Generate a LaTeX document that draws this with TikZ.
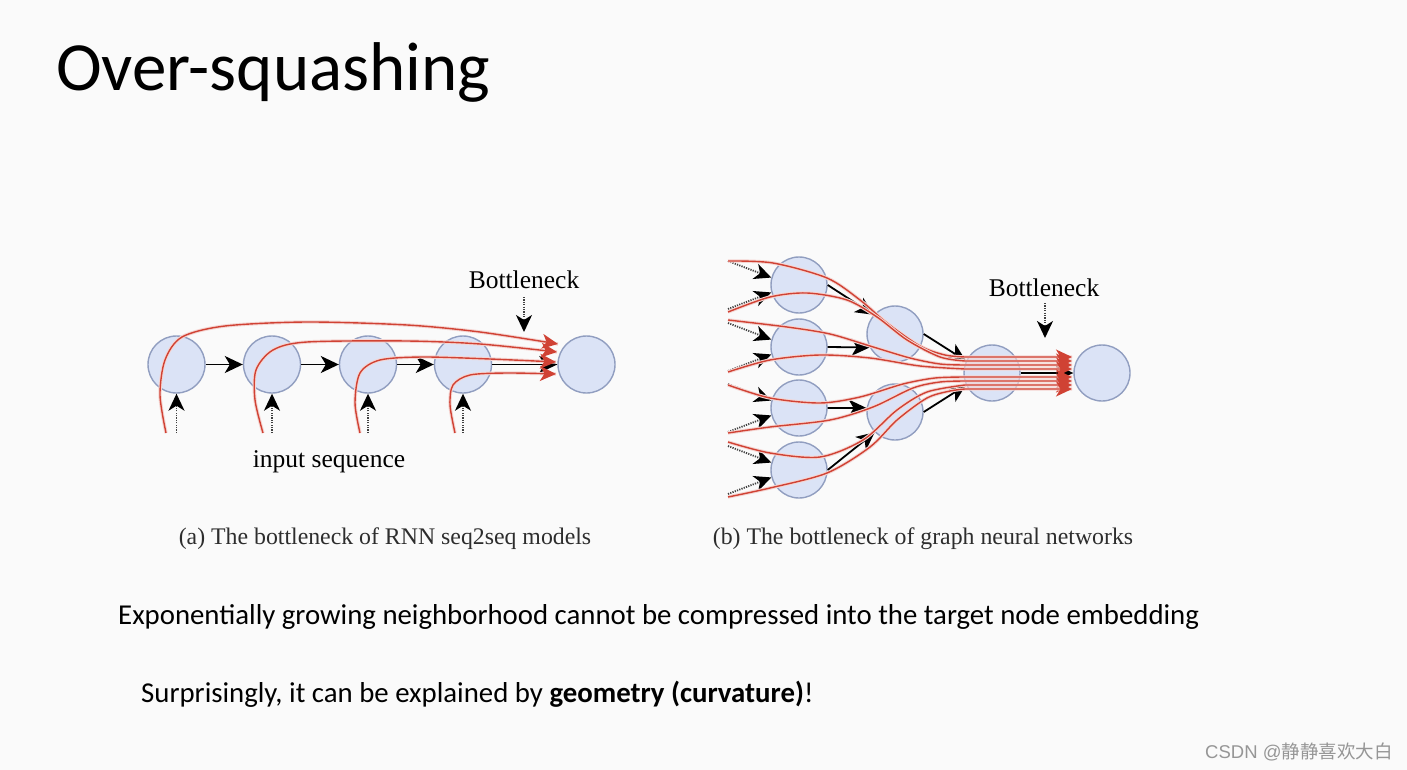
\documentclass[tikz,border=0pt]{standalone}
\usepackage{fontspec}
\setmainfont{Carlito}
\newfontfamily\serifrm{Liberation Serif}
\newfontfamily\wmsans{Liberation Sans}
\newfontfamily\cjk{Noto Sans CJK SC}
\usetikzlibrary{arrows.meta}
\definecolor{bgc}{RGB}{250,250,250}
\definecolor{ndf}{RGB}{219,227,246}
\definecolor{ndb}{RGB}{145,158,192}
\definecolor{redl}{RGB}{208,66,52}
\definecolor{capg}{RGB}{45,45,45}
\definecolor{wmg}{RGB}{150,150,150}
\begin{document}
\begin{tikzpicture}[x=1pt,y=-1pt,
  nd/.style={circle,draw=ndb,fill=ndf,line width=1.4pt,minimum size=57pt,inner sep=0pt},
  blk/.style={draw=black,line width=1.8pt,-{Stealth[length=18pt,width=17pt,inset=5pt]}},
  dotarr/.style={draw=black!75,line width=1.8pt,dash pattern=on 1.2pt off 1.2pt,-{Stealth[length=17pt,width=16pt,inset=5pt,color=black,fill=black]}},
  redc/.style={draw=redl,line width=1.4pt,preaction={draw=redl!22,line width=3.4pt,arrows=-},-{Stealth[length=16pt,width=15pt,inset=4.5pt,fill=redl]}},
  lab/.style={font=\serifrm\fontsize{25.5}{30}\selectfont,inner sep=0pt,anchor=base},
  captxt/.style={font=\serifrm\fontsize{23.8}{28}\selectfont,text=capg,inner sep=0pt,anchor=base},
  body/.style={font=\fontsize{28.8}{34}\selectfont,inner sep=0pt,anchor=base west}]
\useasboundingbox (0,0) rectangle (1407,770);
\fill[bgc] (0,0) rectangle (1407,770);

% title and text
\node[inner sep=0pt,anchor=base west,font=\fontsize{69}{80}\selectfont] (title) at (56,91) {Over-squashing};
\node[body] (t1) at (118,624) {Exponentially growing neighborhood cannot be compressed into the target node embedding};
\node[body] (t2) at (141,702) {Surprisingly, it can be explained by \textbf{geometry (curvature)}!};
\node[inner sep=0pt,anchor=base west,text=wmg,font=\fontsize{18.5}{22}\selectfont] (wm) at (1205,758) {{\wmsans CSDN @}{\cjk 静静喜欢大白}};

% ---------- (a) RNN ----------
\node[nd] (a1) at (176.5,364.5) {};
\node[nd] (a2) at (272,364.5) {};
\node[nd] (a3) at (368,364.5) {};
\node[nd] (a4) at (463,364.5) {};
\node[nd] (a5) at (586.5,364.5) {};
\draw[blk] (a1.east) -- (a2.west);
\draw[blk] (a2.east) -- (a3.west);
\draw[blk] (a3.east) -- (a4.west);
\draw[blk] (a4.east) -- (a5.west);
\foreach \i/\x in {1/176.5,2/272,3/368,4/463}{
  \coordinate (in\i) at (\x,433);
  \draw[dotarr] (in\i) -- (a\i.south);
}
\coordinate (ra1) at (166,433); \coordinate (rb1) at (558,344);
\coordinate (ra2) at (263,433); \coordinate (rb2) at (557,352);
\coordinate (ra3) at (360,433); \coordinate (rb3) at (556,362);
\coordinate (ra4) at (455,433); \coordinate (rb4) at (556,374);
\draw[redc] plot[smooth] coordinates {(ra1) (160,395) (165,360) (182,337) (225,326) (307,322) (407,325) (480,332) (rb1)};
\draw[redc] plot[smooth] coordinates {(ra2) (255,400) (256,370) (273,350) (307,342) (407,341) (480,344) (rb2)};
\draw[redc] plot[smooth] coordinates {(ra3) (355,403) (360,373) (380,360) (423,357) (490,359) (rb3)};
\draw[redc] plot[smooth] coordinates {(ra4) (450,405) (453,385) (470,375) (507,373) (rb4)};
\node[lab] (bla) at (524,288) {Bottleneck};
\coordinate (bla1) at (524,297); \coordinate (bla2) at (524,332);
\draw[dotarr] (bla1) -- (bla2);
\node[lab] (ins) at (329,467) {input sequence};
\node[captxt] (capa) at (385,544) {(a) The bottleneck of RNN seq2seq models};

% ---------- (b) GNN ----------
\node[nd,minimum size=56pt] (c1) at (799,285) {};
\node[nd,minimum size=56pt] (c2) at (799,347) {};
\node[nd,minimum size=56pt] (c3) at (799,408) {};
\node[nd,minimum size=56pt] (c4) at (799,470) {};
\node[nd,minimum size=56pt] (d1) at (895,334) {};
\node[nd,minimum size=56pt] (d2) at (895,412) {};
\node[nd,minimum size=56pt] (e) at (992,373) {};
\node[nd,minimum size=56pt] (t) at (1102,373) {};
\foreach \i/\y in {1/285,2/347,3/408,4/470}{
  \coordinate (pu\i) at (728,\y-24);
  \coordinate (pl\i) at (728,\y+24);
  \draw[dotarr] (pu\i) -- (c\i.165);
  \draw[dotarr] (pl\i) -- (c\i.195);
}
\draw[blk] (c1.east) -- (d1.138);
\draw[blk] (c2.east) -- (d1.208);
\draw[blk] (c3.east) -- (d2.172);
\draw[blk] (c4.east) -- (d2.225);
\draw[blk] (d1.east) -- (e.155);
\draw[blk] (d2.east) -- (e.205);
\draw[blk] (e.east) -- (t.west);
\coordinate (sA) at (728,261); \coordinate (eA) at (1072,357);
\coordinate (sB) at (728,312); \coordinate (eB) at (1072,361);
\coordinate (sC) at (728,320); \coordinate (eC) at (1072,365);
\coordinate (sD) at (728,372); \coordinate (eD) at (1072,369);
\coordinate (sE) at (728,385); \coordinate (eE) at (1072,377);
\coordinate (sF) at (728,433); \coordinate (eF) at (1072,381);
\coordinate (sG) at (728,442); \coordinate (eG) at (1072,385);
\coordinate (sH) at (728,497); \coordinate (eH) at (1072,389);
\draw[redc] plot[smooth] coordinates {(sA) (773,263) (827,278) (860,300) (887,323) (920,346) (945,355) (965,357)} -- (eA);
\draw[redc] plot[smooth] coordinates {(sB) (770,297) (807,293) (847,300) (877,317) (907,340) (940,357) (965,361)} -- (eB);
\draw[redc] plot[smooth] coordinates {(sC) (787,327) (830,334) (870,346) (910,358) (940,364) (965,365)} -- (eC);
\draw[redc] plot[smooth] coordinates {(sD) (770,360) (820,355) (870,358) (920,366) (965,369)} -- (eD);
\draw[redc] plot[smooth] coordinates {(sE) (770,398) (820,403) (860,397) (903,384) (935,378) (965,377)} -- (eE);
\draw[redc] plot[smooth] coordinates {(sF) (770,427) (830,420) (873,407) (913,388) (940,382) (965,381)} -- (eF);
\draw[redc] plot[smooth] coordinates {(sG) (770,453) (820,457) (863,440) (897,410) (927,392) (965,385)} -- (eG);
\draw[redc] plot[smooth] coordinates {(sH) (770,488) (827,473) (870,447) (897,420) (927,398) (950,391) (965,389)} -- (eH);
\node[lab] (blb) at (1044,296) {Bottleneck};
\coordinate (blb1) at (1045,303); \coordinate (blb2) at (1045,338);
\draw[dotarr] (blb1) -- (blb2);
\node[captxt] (capb) at (923,544) {(b) The bottleneck of graph neural networks};
\end{tikzpicture}
\end{document}
